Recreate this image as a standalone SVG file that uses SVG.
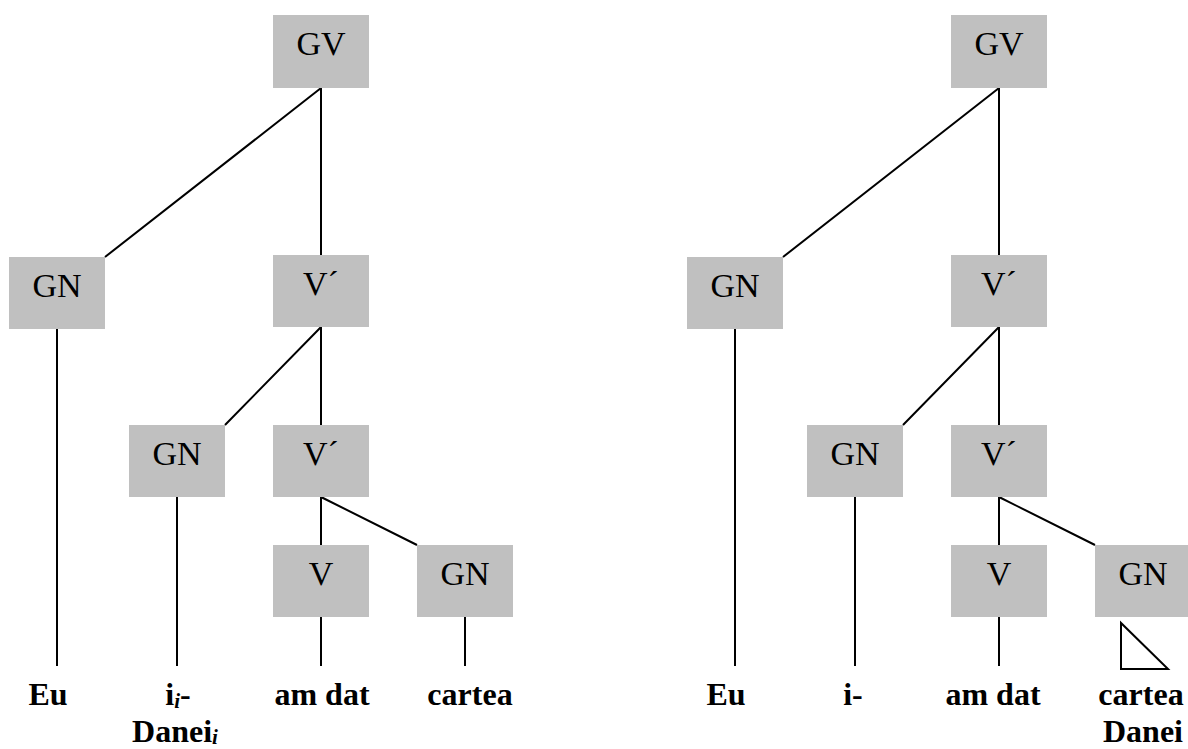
<svg xmlns="http://www.w3.org/2000/svg" width="1188" height="749" viewBox="0 0 1188 749">
<style>
.box{fill:#c0c0c0}
.lbl{font-size:34px;fill:#000;text-anchor:middle}
.leaf{font-size:32px;font-weight:bold;fill:#000;text-anchor:middle}
.sub{font-style:italic;font-size:21px}
.ln{stroke:#000;stroke-width:2;fill:none}
</style>
<rect width="1188" height="749" fill="#fff"/>
<g id="connectors" class="ln">
<path d="M321 88 L105 257 M321 88 V255 M57 329 V666 M321 327 L225 425 M321 327 V425 M177 497 V666 M321 497 V545 M321 497 L417 545 M321 617 V666 M465 617 V666"/>
<path d="M999 88 L783 257 M999 88 V255 M735 329 V666 M999 327 L903 425 M999 327 V425 M855 497 V666 M999 497 V545 M999 497 L1095 545 M999 617 V666"/>
</g>
<g id="roof-R-GN3"><path class="ln" d="M1121 623 V669 H1168 Z"/></g>
<g font-family="'Liberation Serif', 'DejaVu Serif', serif">
<g id="L-GV"><rect class="box" x="273" y="15" width="96" height="73"/><text class="lbl" x="321" y="55">GV</text></g>
<g id="L-GN1"><rect class="box" x="9" y="257" width="96" height="72"/><text class="lbl" x="57" y="297">GN</text></g>
<g id="L-V1"><rect class="box" x="273" y="255" width="96" height="72"/><text class="lbl" x="321" y="295">V´</text></g>
<g id="L-GN2"><rect class="box" x="129" y="425" width="96" height="72"/><text class="lbl" x="177" y="465">GN</text></g>
<g id="L-V2"><rect class="box" x="273" y="425" width="96" height="72"/><text class="lbl" x="321" y="465">V´</text></g>
<g id="L-V"><rect class="box" x="273" y="545" width="96" height="72"/><text class="lbl" x="321" y="585">V</text></g>
<g id="L-GN3"><rect class="box" x="417" y="545" width="96" height="72"/><text class="lbl" x="465" y="585">GN</text></g>
<g id="R-GV"><rect class="box" x="951" y="15" width="96" height="73"/><text class="lbl" x="999" y="55">GV</text></g>
<g id="R-GN1"><rect class="box" x="687" y="257" width="96" height="72"/><text class="lbl" x="735" y="297">GN</text></g>
<g id="R-V1"><rect class="box" x="951" y="255" width="96" height="72"/><text class="lbl" x="999" y="295">V´</text></g>
<g id="R-GN2"><rect class="box" x="807" y="425" width="96" height="72"/><text class="lbl" x="855" y="465">GN</text></g>
<g id="R-V2"><rect class="box" x="951" y="425" width="96" height="72"/><text class="lbl" x="999" y="465">V´</text></g>
<g id="R-V"><rect class="box" x="951" y="545" width="96" height="72"/><text class="lbl" x="999" y="585">V</text></g>
<g id="R-GN3"><rect class="box" x="1095" y="545" width="96" height="72"/><text class="lbl" x="1143" y="585">GN</text></g>
<g id="L-leaves">
<text class="leaf" x="48" y="705">Eu</text>
<text class="leaf" x="178" y="705">i<tspan class="sub" dy="3">i</tspan><tspan dy="-3">-</tspan></text>
<text class="leaf" x="175" y="742">Danei<tspan class="sub" dy="2">i</tspan></text>
<text class="leaf" x="322" y="705">am dat</text>
<text class="leaf" x="470" y="705">cartea</text>
</g>
<g id="R-leaves">
<text class="leaf" x="726" y="705">Eu</text>
<text class="leaf" x="853" y="705">i-</text>
<text class="leaf" x="993" y="705">am dat</text>
<text class="leaf" x="1141" y="705">cartea</text>
<text class="leaf" x="1143" y="742">Danei</text>
</g>
</g>
</svg>
